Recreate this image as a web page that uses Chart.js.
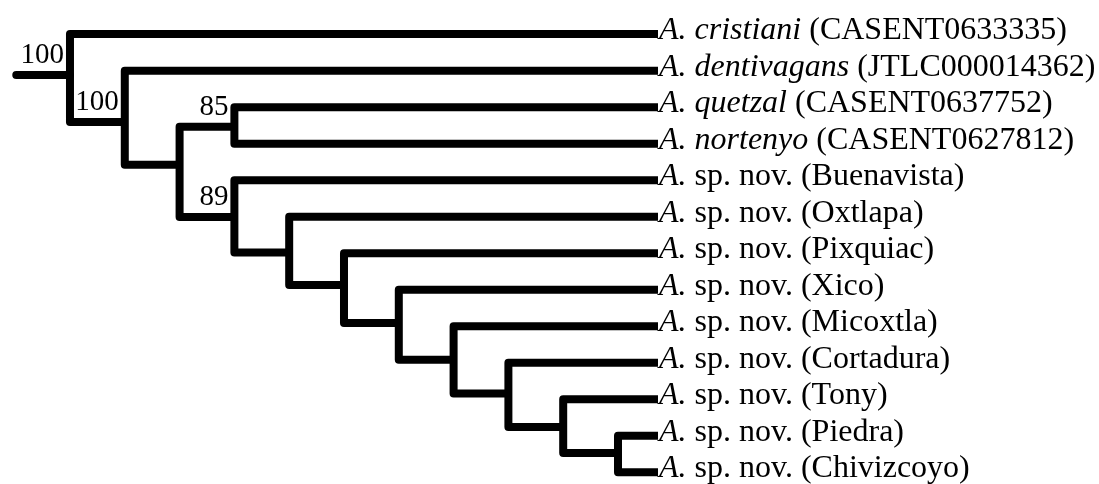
<!DOCTYPE html>
<html>
<head>
<meta charset="utf-8">
<script src="https://cdn.jsdelivr.net/npm/chart.js"></script>
<style>
  body { margin: 0; background: #fff; }
  #wrap { width: 1099px; height: 484px; position: relative; }
</style>
</head>
<body>
<div id="wrap"><canvas id="tree"></canvas></div>
<script>
// leaves, top to bottom
const leafEpithets = ['cristiani', 'dentivagans', 'quetzal', 'nortenyo', 'sp. nov.', 'sp. nov.', 'sp. nov.',
    'sp. nov.', 'sp. nov.', 'sp. nov.', 'sp. nov.', 'sp. nov.', 'sp. nov.'];
const leafDescribed = [true, true, true, true, false, false, false, false, false, false, false, false, false];
const leafVouchers = ['CASENT0633335', 'JTLC000014362', 'CASENT0637752', 'CASENT0627812', 'Buenavista', 'Oxtlapa',
    'Pixquiac', 'Xico', 'Micoxtla', 'Cortadura', 'Tony', 'Piedra', 'Chivizcoyo'];
const leafRows = [0, 1, 2, 3, 4, 5, 6, 7, 8, 9, 10, 11, 12];
const leafParents = ['root', 'n2', 'n85', 'n85', 'n89', 'n6', 'n7', 'n8', 'n9', 'n10', 'n11', 'n12', 'n12'];
const leafDepth = 10.73;

// internal nodes
const nodeIds = ['root', 'n2', 'n3', 'n85', 'n89', 'n6', 'n7', 'n8', 'n9', 'n10', 'n11', 'n12'];
const nodeParents = [null, 'root', 'n2', 'n3', 'n3', 'n89', 'n6', 'n7', 'n8', 'n9', 'n10', 'n11'];
const nodeDepths = [0, 1, 2, 3, 3, 4, 5, 6, 7, 8, 9, 10];
const nodeRows = [1.12, 2.41, 3.58, 2.54, 5.01, 5.98, 6.87, 7.91, 8.92, 9.84, 10.76, 11.47];
const rootStart = -0.98;

// bootstrap support
const supportNodes = ['root', 'n2', 'n85', 'n89'];
const supportValues = [100, 100, 85, 89];

const FONT = '"Liberation Serif", "Times New Roman", serif';

function buildDatasets() {
    const datasets = [];
    const base = {
        showLine: true,
        borderColor: '#000',
        borderWidth: 8,
        pointRadius: 0,
        borderCapStyle: 'butt',
        borderJoinStyle: 'round',
    };
    nodeIds.forEach((id, i) => {
        const kids = [];
        leafParents.forEach((p, j) => {
            if (p === id) kids.push({ x: leafDepth, y: leafRows[j] });
        });
        nodeParents.forEach((p, j) => {
            if (p === id) kids.push({ x: nodeDepths[j], y: nodeRows[j] });
        });
        kids.sort((a, b) => a.y - b.y);
        const first = kids[0];
        const last = kids[kids.length - 1];
        const d = nodeDepths[i];
        datasets.push(Object.assign({}, base, {
            data: [first, { x: d, y: first.y }, { x: d, y: last.y }, last]
        }));
    });
    // root stub
    datasets.push(Object.assign({}, base, {
        borderCapStyle: 'round',
        data: [{ x: rootStart, y: nodeRows[0] }, { x: nodeDepths[0], y: nodeRows[0] }]
    }));
    return datasets;
}

const labelPlugin = {
    id: 'treeLabels',
    afterDatasetsDraw(chart) {
        const ctx = chart.ctx;
        const xs = chart.scales.x;
        const ys = chart.scales.y;
        ctx.save();
        ctx.fillStyle = '#000';
        ctx.textBaseline = 'alphabetic';

        // leaf names
        leafVouchers.forEach((v, i) => {
            let x = xs.getPixelForValue(leafDepth) + 1;
            const y = ys.getPixelForValue(leafRows[i]) + 5;
            const parts = [
                ['italic', 'A.'],
                ['normal', ' '],
                [leafDescribed[i] ? 'italic' : 'normal', leafEpithets[i]],
                ['normal', ' (' + v + ')']
            ];
            ctx.textAlign = 'left';
            parts.forEach(p => {
                ctx.font = p[0] + ' 32px ' + FONT;
                ctx.fillText(p[1], x, y);
                x += ctx.measureText(p[1]).width;
            });
        });

        // support values
        ctx.font = '29px ' + FONT;
        ctx.textAlign = 'right';
        supportNodes.forEach((id, i) => {
            const k = nodeIds.indexOf(id);
            const x = xs.getPixelForValue(nodeDepths[k]) - 6;
            const y = ys.getPixelForValue(nodeRows[k]) - 12;
            ctx.fillText(String(supportValues[i]), x, y);
        });
        ctx.restore();
    }
};

const ctx = document.getElementById('tree').getContext('2d');
const chart = new Chart(ctx, {
    type: 'scatter',
    data: { datasets: buildDatasets() },
    options: {
        responsive: true,
        maintainAspectRatio: false,
        animation: false,
        layout: { padding: 0 },
        plugins: {
            legend: { display: false },
            tooltip: { enabled: false }
        },
        scales: {
            x: { type: 'linear', display: false, min: -1.277, max: 18.777 },
            y: { type: 'linear', display: false, min: -0.934, max: 12.319, reverse: true }
        }
    },
    plugins: [labelPlugin]
});
</script>
</body>
</html>
